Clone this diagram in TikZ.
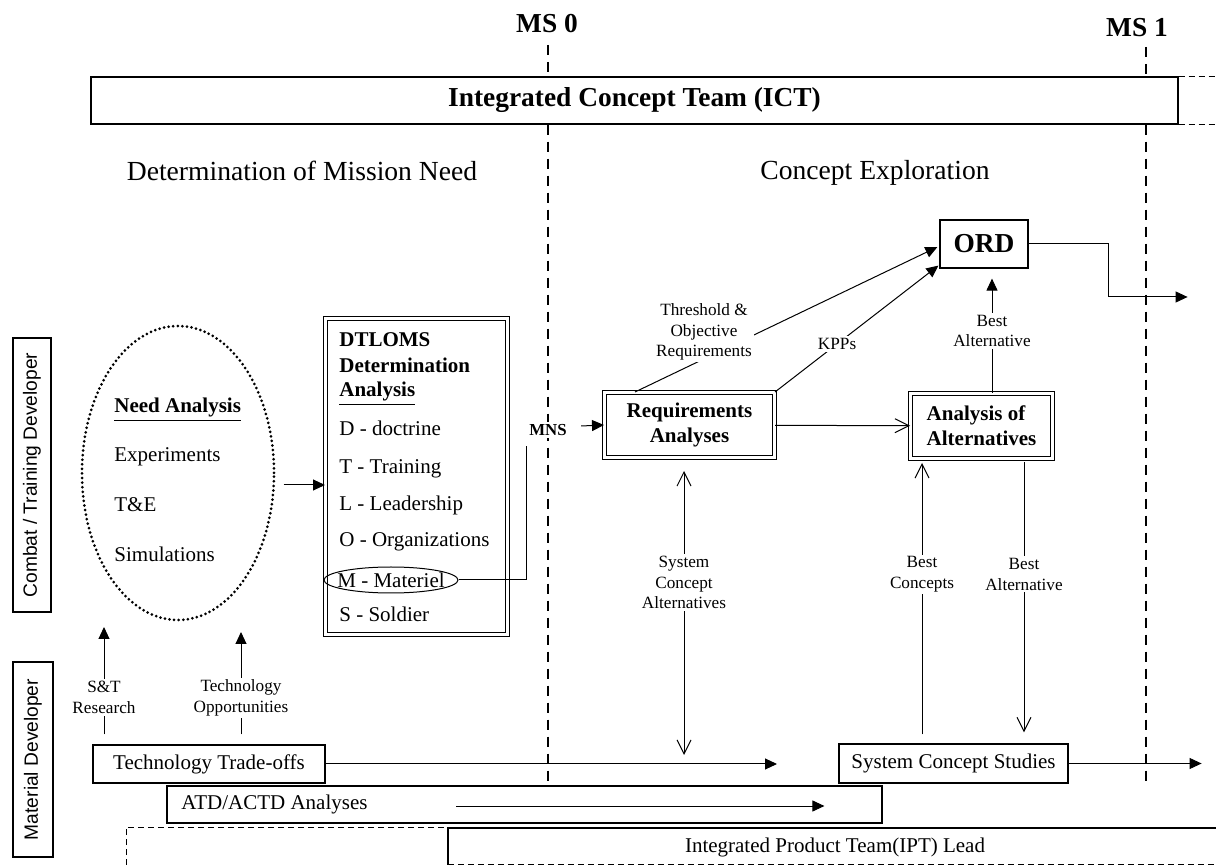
\documentclass[tikz,border=0pt]{standalone}
\usepackage{fontspec}
\setmainfont{Liberation Serif}
\setsansfont{Liberation Sans}
\usetikzlibrary{arrows.meta,shapes.geometric,calc,positioning}
\begin{document}
\begin{tikzpicture}[x=0.5pt, y=-0.5pt,
  hdr/.style={font=\fontsize{13.7}{16}\selectfont\bfseries},
  ttl/.style={font=\fontsize{13.8}{16}\selectfont},
  body/.style={font=\fontsize{10.5}{12.6}\selectfont},
  bodyb/.style={font=\fontsize{10.5}{12.6}\selectfont\bfseries},
  lbl/.style={fill=white, inner sep=1pt, align=center, font=\fontsize{8.6}{10.3}\selectfont},
  box/.style={draw, line width=0.6pt, inner sep=0pt},
  dbox/.style={draw, line width=0.5pt, double, double distance=1.6pt, inner sep=0pt, align=center},
  side/.style={draw, line width=0.6pt, rotate=90, inner sep=0pt, font=\fontsize{9.6}{11}\selectfont\sffamily},
  item/.style={anchor=base west, inner sep=0pt},
  dotring/.style={draw, ellipse, inner sep=0pt, line width=1.5pt, dash pattern=on 0pt off 2.3pt, line cap=round},
  msline/.style={line width=1.1pt, dash pattern=on 5pt off 3.5pt},
  thindash/.style={line width=0.5pt, dash pattern=on 3pt off 2pt},
  fillarr/.style={-{Triangle[length=6pt,width=5.5pt]}, line width=0.5pt},
  openarr/.style={-{Straight Barb[length=7pt,width=7pt]}, line width=0.5pt},
  bothopen/.style={{Straight Barb[length=7pt,width=7pt]}-{Straight Barb[length=7pt,width=7pt]}, line width=0.5pt}]
  \useasboundingbox (0,0) rectangle (1216,865);

  \node[hdr] (ms0) at (547,24) {MS 0};
  \node[hdr] (ms1) at (1137,28) {MS 1};
  \node[box, hdr, minimum width=543.5pt, minimum height=23.5pt] (ict) at (634.5,100.5) {Integrated Concept Team (ICT)};
  \draw[thindash] (ict.north east) -- ++(40,0);
  \draw[thindash] (ict.south east) -- ++(40,0);

  \node[ttl] (dmn) at (302,171) {Determination of Mission Need};
  \node[ttl] (cex) at (875,173) {Concept Exploration};

  \node[side, minimum width=137pt, minimum height=19pt] (ctd) at (32,475) {Combat / Training Developer};
  \node[side, minimum width=97.5pt, minimum height=20pt] (mdv) at (33,759.5) {Material Developer};

  \draw[thindash] (126,865) |- (448,827);
  \draw[line width=0.6pt] (448,865) |- (1216,828);
  \draw[thindash] (448,864) -- (1216,864);
  \node[body] (ipt) at (835,847) {Integrated Product Team(IPT) Lead};

  \node[box, body, minimum width=116pt, minimum height=19pt] (tto) at (209,764) {Technology Trade-offs};
  \node[box, minimum width=357.5pt, minimum height=18.5pt] (atd) at (524.5,804.5) {};
  \node[body, right=4pt of atd.west] (atdtxt) {ATD/ACTD Analyses};
  \node[box, body, minimum width=114.5pt, minimum height=19.5pt] (scs) at (953.5,763.5) {System Concept Studies};

  \draw[msline] (548,45) -- (ict.north -| 548,0);
  \draw[msline] (ict.south -| 548,0) -- (atd.north -| 548,0);
  \draw[msline] (1146,47) -- (ict.north -| 1146,0);
  \draw[msline] (ict.south -| 1146,0) -- (1146,785);

  \node[dotring, minimum width=96pt, minimum height=147pt] (need) at (178,473) {};
  \node[item, bodyb] (nan) at (114,413) {\underline{Need Analysis}};
  \node[item, body] (exp) at (114,462) {Experiments};
  \node[item, body] (tne) at (114,512) {T\&E};
  \node[item, body] (sim) at (114,562) {Simulations};

  \node[dbox, minimum width=91pt, minimum height=158pt] (dtl) at (416.5,476.5) {};
  \node[item, bodyb] (dtl1) at (339,347) {DTLOMS};
  \node[item, bodyb] (dtl2) at (339,373) {Determination};
  \node[item, bodyb] (dtl3) at (339,397) {\underline{Analysis}};
  \foreach \nm/\yy/\txt in {dd/436/D - doctrine, tt/474/T - Training, ll/511/L - Leadership, oo/547/O - Organizations, ss/622/S - Soldier}
    \node[item, body] (\nm) at (339,\yy) {\txt};
  \node[draw, ellipse, line width=0.5pt, body, inner xsep=-4pt, inner ysep=0pt, minimum width=67pt, minimum height=13pt] (mat) at (391,580) {M - Materiel};

  \draw[fillarr] ($(need.east)+(8,12)$) -- ($(dtl.west)+(0,8.5)$);

  \node[inner sep=1pt, fill=white, font=\fontsize{8.4}{10}\selectfont\bfseries] (mns) at (548,430) {MNS};
  \draw[line width=0.5pt] (mat.east) -| ($(mns.south west)+(0,8)$);

  \node[dbox, bodyb, minimum width=85pt, minimum height=32.5pt] (req) at (689.5,425) {Requirements\\Analyses};
  \node[dbox, bodyb, align=left, minimum width=71pt, minimum height=32.5pt] (aoa) at (981.5,426) {Analysis of\\Alternatives};
  \node[box, hdr, minimum width=44pt, minimum height=24pt] (ord) at (984,244) {ORD};

  \draw[fillarr] ($(mns.east)+(12,-4)$) -- (req.west);
  \draw[openarr] (req) -- (aoa);

  \draw[fillarr] ($(req.north west)+(31,0)$) -- ($(ord.west)+(-2,3)$);
  \node[lbl] (thr) at (704,332) {Threshold \&\\Objective\\Requirements};
  \draw[fillarr] (req.north east) -- ($(ord.south west)+(-1,-3)$) node[lbl, pos=0.38] (kpp) {KPPs};
  \draw[fillarr, shorten >=5pt] (aoa.north -| 992,0) -- (ord.south -| 992,0) node[lbl, midway] (balt) {Best\\Alternative};
  \draw[fillarr] (ord.east) -- ++(80,0) -- ++(0,53) -- ++(79,0);

  \coordinate (scatip) at (684,755);
  \draw[bothopen, shorten >=6.5pt] (scatip) -- (req.south -| 684,0) node[lbl, pos=0.58] (sca) {System\\Concept\\Alternatives};
  \draw[openarr, shorten <=4.5pt, shorten >=2pt] (scs.north -| 922,0) -- (aoa.south -| 922,0) node[lbl, pos=0.594] (bcon) {Best\\Concepts};
  \draw[openarr, shorten <=1.5pt, shorten >=5.5pt] (aoa.south -| 1024,0) -- (scs.north -| 1024,0) node[lbl, pos=0.406] (balt2) {Best\\Alternative};

  \draw[fillarr, shorten <=5pt] (tto.north -| 104,0) -- (104,627) node[lbl, pos=0.4] (snt) {S\&T\\Research};
  \draw[fillarr, shorten <=5pt] (tto.north -| 241,0) -- (241,632) node[lbl, pos=0.416] (topp) {Technology\\Opportunities};

  \draw[fillarr] (tto.east) -- (777,764);
  \draw[fillarr] ($(atd.west)+(290,1.5)$) -- ++(368,0);
  \draw[fillarr] (scs.east) -- ++(133,0);
\end{tikzpicture}
\end{document}
